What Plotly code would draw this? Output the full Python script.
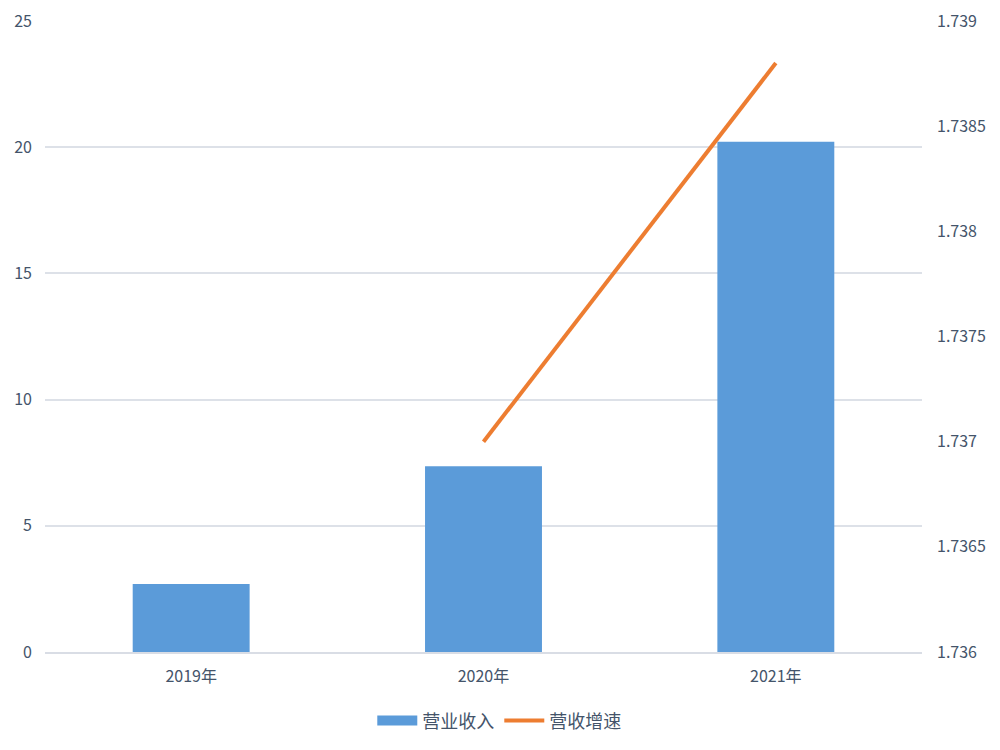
import plotly.graph_objects as go

categories = ["2019年", "2020年", "2021年"]
revenue = [2.69, 7.36, 20.22]
growth_x = ["2020年", "2021年"]
growth = [1.7370, 1.7388]

FONT = "Noto Sans CJK SC"
TXT = "#44546a"
BLUE = "#5b9bd9"

fig = go.Figure()
fig.add_trace(go.Bar(
    x=categories, y=revenue, name="营业收入",
    marker=dict(color=BLUE, line=dict(width=0)),
    width=0.4, yaxis="y", showlegend=False, legendgroup="rev",
))
# legend-only entry to show a wide bar-like symbol
fig.add_trace(go.Scatter(
    x=[None], y=[None], name="营业收入", mode="lines",
    line=dict(color=BLUE, width=10), legendgroup="rev",
))
fig.add_trace(go.Scatter(
    x=growth_x, y=growth, name="营收增速", mode="lines",
    line=dict(color="#ed7d31", width=4), yaxis="y2",
))

fig.update_layout(
    width=1000, height=750,
    margin=dict(l=45, r=78, t=21, b=97),
    plot_bgcolor="white", paper_bgcolor="white",
    font=dict(family=FONT, color=TXT, size=16),
    xaxis=dict(showgrid=False, showline=True, linecolor="#d9dde5", linewidth=2,
               ticks="", tickfont=dict(size=16, color=TXT), ticklabelstandoff=9,
               automargin=False),
    yaxis=dict(range=[0, 25], dtick=5, showgrid=True, gridcolor="#dde1e8", gridwidth=1.5,
               zeroline=False, showline=False, ticks="", tickfont=dict(size=16, color=TXT),
               ticklabelstandoff=12, automargin=False),
    yaxis2=dict(range=[1.736, 1.739], dtick=0.0005, overlaying="y", side="right",
                showgrid=False, zeroline=False, showline=False, ticks="",
                tickformat=".4~f",
                tickfont=dict(size=16, color=TXT), ticklabelstandoff=14, automargin=False),
    legend=dict(orientation="h", x=0.518, xanchor="center",
                y=-0.078, yanchor="top",
                font=dict(size=18, color=TXT), itemwidth=40, tracegroupgap=0),
    showlegend=True,
)

fig.write_html("out.html", config={"displayModeBar": False},
               post_script="document.body.style.margin='0';")
